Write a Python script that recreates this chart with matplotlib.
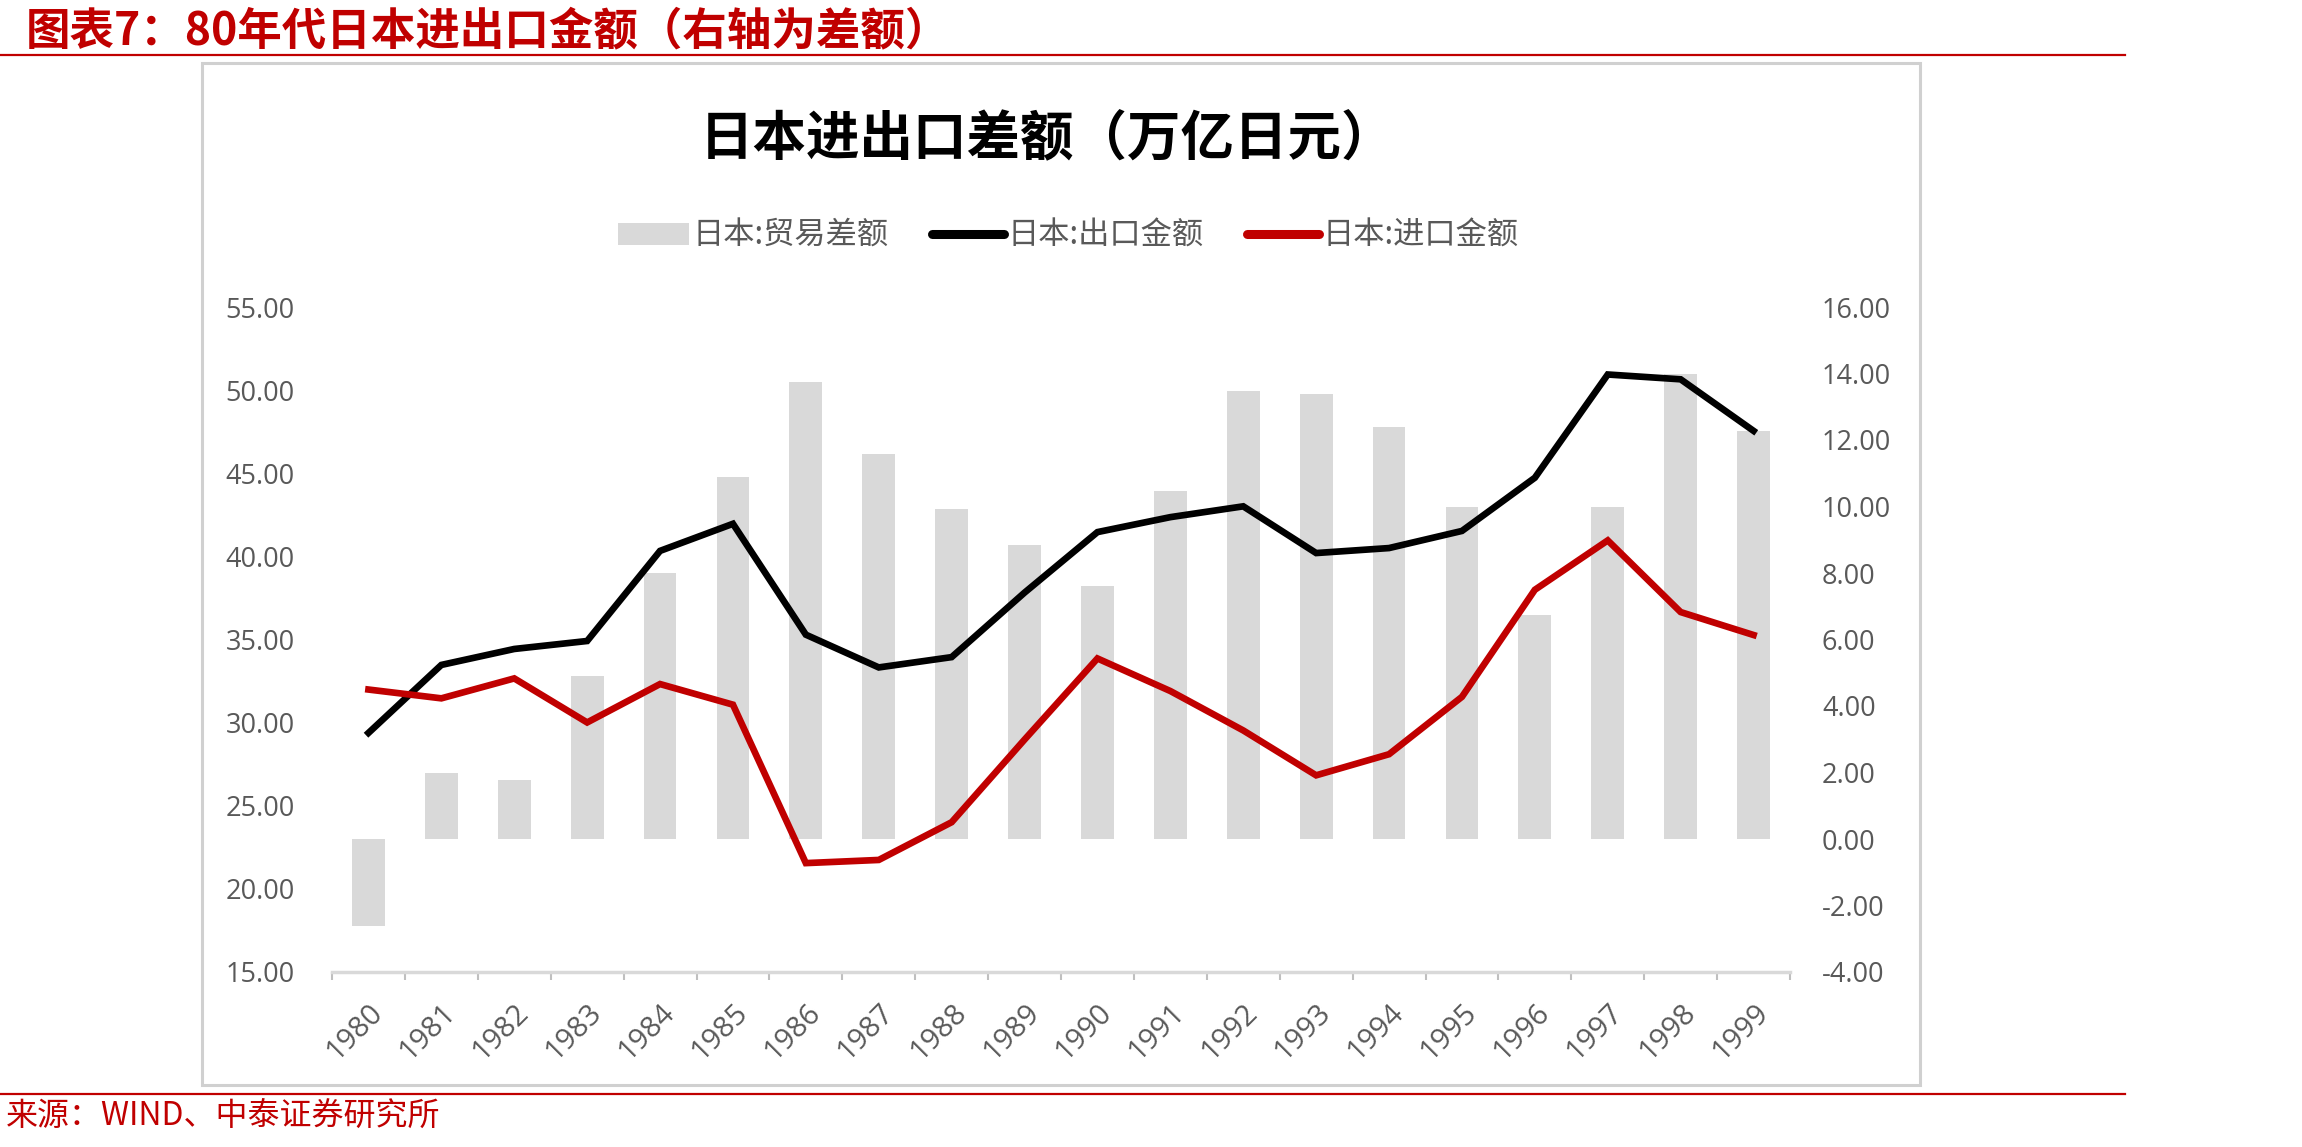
import numpy as np
import matplotlib
matplotlib.use("Agg")
import matplotlib.pyplot as plt
from matplotlib.patches import Rectangle, Patch
from matplotlib.lines import Line2D

plt.rcParams['font.family'] = ['Noto Sans CJK SC', 'DejaVu Sans']

# data (万亿日元)
years = [str(y) for y in range(1980, 2000)]
trade_balance = [-2.61, 2.00, 1.77, 4.90, 8.01, 10.88, 13.74, 11.58, 9.93, 8.84,
                 7.60, 10.46, 13.48, 13.37, 12.40, 9.98, 6.74, 9.98, 14.00, 12.28]
exports = [29.38, 33.47, 34.43, 34.91, 40.33, 41.96, 35.29, 33.32, 33.94, 37.82,
           41.46, 42.36, 43.01, 40.20, 40.50, 41.53, 44.73, 50.94, 50.65, 47.55]
imports = [31.99, 31.46, 32.66, 30.01, 32.32, 31.08, 21.55, 21.74, 24.01, 28.98,
           33.86, 31.90, 29.53, 26.83, 28.10, 31.55, 37.99, 40.96, 36.65, 35.27]
left_ticks = [15, 20, 25, 30, 35, 40, 45, 50, 55]
right_ticks = [-4, -2, 0, 2, 4, 6, 8, 10, 12, 14, 16]

fig_title = '图表7：80年代日本进出口金额（右轴为差额）'
chart_title = '日本进出口差额（万亿日元）'
legend_labels = ['日本:贸易差额', '日本:出口金额', '日本:进口金额']
source = '来源：WIND、中泰证券研究所'

RED = '#C00000'
GREY_TXT = '#595959'
BAR = '#D9D9D9'

W, H = 2302, 1147
fig = plt.figure(figsize=(W / 100, H / 100), dpi=100)


def fx(px):
    return px / W


def fy(py):
    return 1 - py / H


# page decoration
fig.text(fx(26), fy(31), fig_title, color=RED, fontsize=32, fontweight='bold',
         va='center', ha='left')
fig.add_artist(Line2D([0, fx(2125)], [fy(55), fy(55)], color=RED, lw=1.6))
fig.add_artist(Line2D([0, fx(2125)], [fy(1094), fy(1094)], color=RED, lw=1.6))
fig.text(fx(6), fy(1117), source, color=RED, fontsize=23, va='center', ha='left')

fig.add_artist(Rectangle((fx(202), fy(1085)), fx(1920 - 202), (1085 - 63) / H,
                         fill=False, ec='#D0D0D0', lw=2.2, transform=fig.transFigure))

fig.text(fx(1047), fy(140), chart_title, fontsize=38.5, fontweight='bold',
         color='black', ha='center', va='center')

# bars on the right-hand axis
ax_r = fig.add_axes([fx(332), fy(972), fx(1790 - 332), (972 - 307) / H])
x = np.arange(len(years))
ax_r.bar(x, trade_balance, width=0.45, color=BAR, zorder=1)
ax_r.set_ylim(-4, 16)
ax_r.set_xlim(-0.5, len(years) - 0.5)

ax_r.set_xticks(x)
ax_r.set_xticklabels(years, rotation=45, ha='right', va='top', rotation_mode='anchor',
                     fontfamily='Open Sans', fontsize=21, color=GREY_TXT)
ax_r.tick_params(axis='x', which='major', length=0, pad=19)
ax_r.set_xticks(np.arange(-0.5, len(years), 1), minor=True)
ax_r.tick_params(axis='x', which='minor', length=6, width=1.5, color='#BFBFBF')

for s in ['top', 'left', 'right']:
    ax_r.spines[s].set_visible(False)
ax_r.spines['bottom'].set_color('#D9D9D9')
ax_r.spines['bottom'].set_linewidth(2.5)

# lines on the left-hand axis
ax_l = ax_r.twinx()
ax_l.plot(x, exports, color='black', lw=4.8, solid_joinstyle='miter')
ax_l.plot(x, imports, color=RED, lw=4.8, solid_joinstyle='miter')
ax_l.set_ylim(15, 55)
ax_l.set_xlim(-0.5, len(years) - 0.5)
for s in ax_l.spines.values():
    s.set_visible(False)

ax_l.yaxis.tick_left()
ax_l.set_yticks(left_ticks)
ax_l.set_yticklabels([f'{v:.2f}' for v in left_ticks], fontfamily='Open Sans',
                     fontsize=19.5, color=GREY_TXT)
ax_l.tick_params(axis='y', length=0, pad=27)

ax_r.yaxis.tick_right()
ax_r.set_yticks(right_ticks)
ax_r.set_yticklabels([f'{v:.2f}' for v in right_ticks], fontfamily='Open Sans',
                     fontsize=19.5, color=GREY_TXT)
ax_r.tick_params(axis='y', length=0, pad=23)

handles = [Patch(facecolor=BAR, edgecolor='none'),
           Line2D([], [], color='black', lw=6.5, solid_capstyle='round'),
           Line2D([], [], color=RED, lw=6.5, solid_capstyle='round')]
fig.legend(handles, legend_labels, loc='center', bbox_to_anchor=(fx(1068), fy(236)),
           ncol=3, frameon=False, fontsize=22.5, labelcolor=GREY_TXT,
           handlelength=2.3, handleheight=0.7, handletextpad=0.1, columnspacing=1.4)

fig.savefig('out.png', dpi=100)
